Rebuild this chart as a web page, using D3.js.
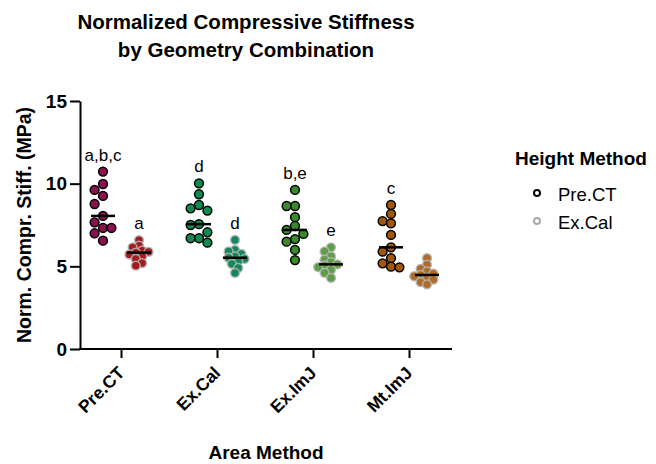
<!DOCTYPE html>
<html>
<head>
<meta charset="utf-8">
<script src="https://cdn.jsdelivr.net/npm/d3@7"></script>
<style>
  html, body { margin: 0; padding: 0; background: #fff; }
  svg { display: block; font-family: "Liberation Sans", Arial, Helvetica, sans-serif; }
</style>
</head>
<body>
<svg id="chart" width="656" height="464"></svg>
<script>
// ---------- data ----------
const areaMethods = ["Pre.CT", "Ex.Cal", "Ex.ImJ", "Mt.ImJ"];
const heightMethods = ["Pre.CT", "Ex.Cal"];

const preCT_PreCT = [10.73, 9.98, 9.62, 9.26, 8.77, 8.05, 7.66, 7.32, 7.32, 7.0, 6.55];
const preCT_ExCal = [6.59, 6.25, 6.15, 5.95, 5.88, 5.83, 5.72, 5.6, 5.45, 5.2, 5.04];
const exCal_PreCT = [10.02, 9.36, 8.71, 8.51, 8.37, 7.55, 7.5, 7.06, 6.7, 6.7, 6.43];
const exCal_ExCal = [6.6, 6.0, 5.9, 5.75, 5.6, 5.52, 5.45, 5.3, 5.15, 4.9, 4.6];
const exImJ_PreCT = [9.62, 8.65, 8.65, 7.97, 7.44, 7.2, 6.96, 6.65, 6.49, 5.99, 5.38];
const exImJ_ExCal = [6.15, 5.9, 5.6, 5.4, 5.25, 5.12, 5.05, 4.95, 4.8, 4.6, 4.3];
const mtImJ_PreCT = [8.71, 8.17, 7.74, 7.6, 6.9, 6.15, 5.89, 5.49, 5.18, 4.98, 4.94];
const mtImJ_ExCal = [5.49, 5.1, 4.85, 4.7, 4.55, 4.48, 4.4, 4.3, 4.2, 4.05, 3.91];

const sigLabels_PreCT = ["a,b,c", "d", "b,e", "c"];
const sigLabels_ExCal = ["a", "d", "e", ""];

const yTicks = [0, 5, 10, 15];

const colors_PreCT = ["#8C114F", "#0F8A50", "#3A8A2B", "#A1580D"];
const colors_ExCal = ["#A31C1F", "#12895A", "#5E9E46", "#B06B27"];

// build groups
const seriesPreCT = [preCT_PreCT, exCal_PreCT, exImJ_PreCT, mtImJ_PreCT];
const seriesExCal = [preCT_ExCal, exCal_ExCal, exImJ_ExCal, mtImJ_ExCal];
const groups = [];
areaMethods.forEach((a, i) => {
  groups.push({area: a, height: "Pre.CT", values: seriesPreCT[i], color: colors_PreCT[i], label: sigLabels_PreCT[i]});
  groups.push({area: a, height: "Ex.Cal", values: seriesExCal[i], color: colors_ExCal[i], label: sigLabels_ExCal[i]});
});

// ---------- layout ----------
const svg = d3.select("#chart");
const plot = {left: 80, right: 452, top: 101, bottom: 349};

const x = d3.scalePoint().domain(areaMethods).range([121, 409]);
const xInner = d3.scalePoint().domain(heightMethods).range([-18, 18]);
const y = d3.scaleLinear().domain([0, 15]).range([plot.bottom, plot.top]);

// ---------- swarm ----------
function swarm(values, step, minDist) {
  const placed = [];
  const sorted = values.map((v, i) => ({v, i})).sort((a, b) => b.v - a.v);
  const cands = [0];
  for (let k = 1; k <= 6; k++) { cands.push(-k * step, k * step); }
  sorted.forEach(p => {
    const py = y(p.v);
    let off = 0;
    for (const c of cands) {
      if (placed.every(q => Math.hypot(q.dx - c, q.py - py) >= minDist)) { off = c; break; }
    }
    placed.push({v: p.v, py, dx: off});
  });
  return placed;
}

// ---------- axes ----------
const axisColor = "#000";
// y axis
const yAxis = d3.axisLeft(y).tickValues(yTicks).tickSize(10).tickSizeOuter(0).tickPadding(3);
const gy = svg.append("g").attr("transform", `translate(${plot.left},0)`).call(yAxis);
gy.select(".domain").attr("stroke", axisColor).attr("stroke-width", 2);
gy.selectAll(".tick line").attr("stroke", axisColor).attr("stroke-width", 2);
gy.selectAll(".tick text").attr("fill", "#000").attr("font-size", 19).attr("font-weight", "bold")
  .attr("font-family", "Liberation Sans, Arial, sans-serif");

// x axis
const xAxis = d3.axisBottom(x).tickSize(9).tickSizeOuter(0).tickPadding(3);
const gx = svg.append("g").attr("transform", `translate(0,${plot.bottom})`).call(xAxis);
gx.select(".domain").remove();
gx.append("line").attr("x1", plot.left - 1).attr("x2", plot.right).attr("y1", 0).attr("y2", 0)
  .attr("stroke", axisColor).attr("stroke-width", 2);
gx.selectAll(".tick line").attr("stroke", axisColor).attr("stroke-width", 2);
gx.selectAll(".tick text")
  .attr("fill", "#000").attr("font-size", 17.5).attr("font-weight", "bold")
  .attr("font-family", "Liberation Sans, Arial, sans-serif")
  .attr("text-anchor", "end")
  .attr("dy", 0)
  .attr("transform", "translate(4,25) rotate(-45)")
  .attr("y", 0).attr("x", 0);

// ---------- points ----------
groups.forEach(g => {
  const cx = x(g.area) + xInner(g.height);
  const isPre = g.height === "Pre.CT";
  const pts = isPre ? swarm(g.values, 8.4, 8.4) : swarm(g.values, 3.2, 5.5);
  const gg = svg.append("g");
  gg.selectAll("circle").data(pts).join("circle")
    .attr("cx", d => cx + d.dx)
    .attr("cy", d => d.py)
    .attr("r", 4.4)
    .attr("fill", g.color)
    .attr("stroke", isPre ? "#000" : "#b5b5b5")
    .attr("stroke-width", 1.5)
    .attr("stroke-opacity", isPre ? 1 : 0.9);
  // median line
  const med = d3.median(g.values);
  gg.append("line")
    .attr("x1", cx - 12).attr("x2", cx + 12)
    .attr("y1", y(med)).attr("y2", y(med))
    .attr("stroke", "#000").attr("stroke-width", 2.5);
  // significance label
  if (g.label) {
    gg.append("text")
      .attr("x", cx).attr("y", y(d3.max(g.values)) - 11)
      .attr("text-anchor", "middle")
      .attr("font-size", 17)
      .attr("fill", "#000")
      .text(g.label);
  }
});

// ---------- titles ----------
const title = svg.append("text").attr("text-anchor", "middle").attr("font-weight", "bold")
  .attr("font-size", 20.5).attr("fill", "#000");
title.append("tspan").attr("x", 246).attr("y", 29).text("Normalized Compressive Stiffness");
title.append("tspan").attr("x", 246).attr("y", 57).text("by Geometry Combination");

svg.append("text")
  .attr("transform", `translate(31,${(plot.top + plot.bottom) / 2}) rotate(-90)`)
  .attr("text-anchor", "middle").attr("font-weight", "bold").attr("font-size", 19.5)
  .attr("fill", "#000")
  .text("Norm. Compr. Stiff. (MPa)");

svg.append("text")
  .attr("x", 266).attr("y", 459)
  .attr("text-anchor", "middle").attr("font-weight", "bold").attr("font-size", 19)
  .attr("fill", "#000")
  .text("Area Method");

// ---------- legend ----------
const legend = svg.append("g");
legend.append("text").attr("x", 515).attr("y", 165).attr("font-weight", "bold")
  .attr("font-size", 19).attr("fill", "#000").text("Height Method");
const legendStroke = ["#000", "#a8a8a8"];
heightMethods.forEach((h, i) => {
  const ly = 193 + i * 28;
  legend.append("circle").attr("cx", 537).attr("cy", ly).attr("r", 3)
    .attr("fill", "#fff").attr("stroke", legendStroke[i]).attr("stroke-width", 2);
  legend.append("text").attr("x", 558).attr("y", ly + 8).attr("font-size", 18.5)
    .attr("fill", "#000").text(h);
});
</script>
</body>
</html>
